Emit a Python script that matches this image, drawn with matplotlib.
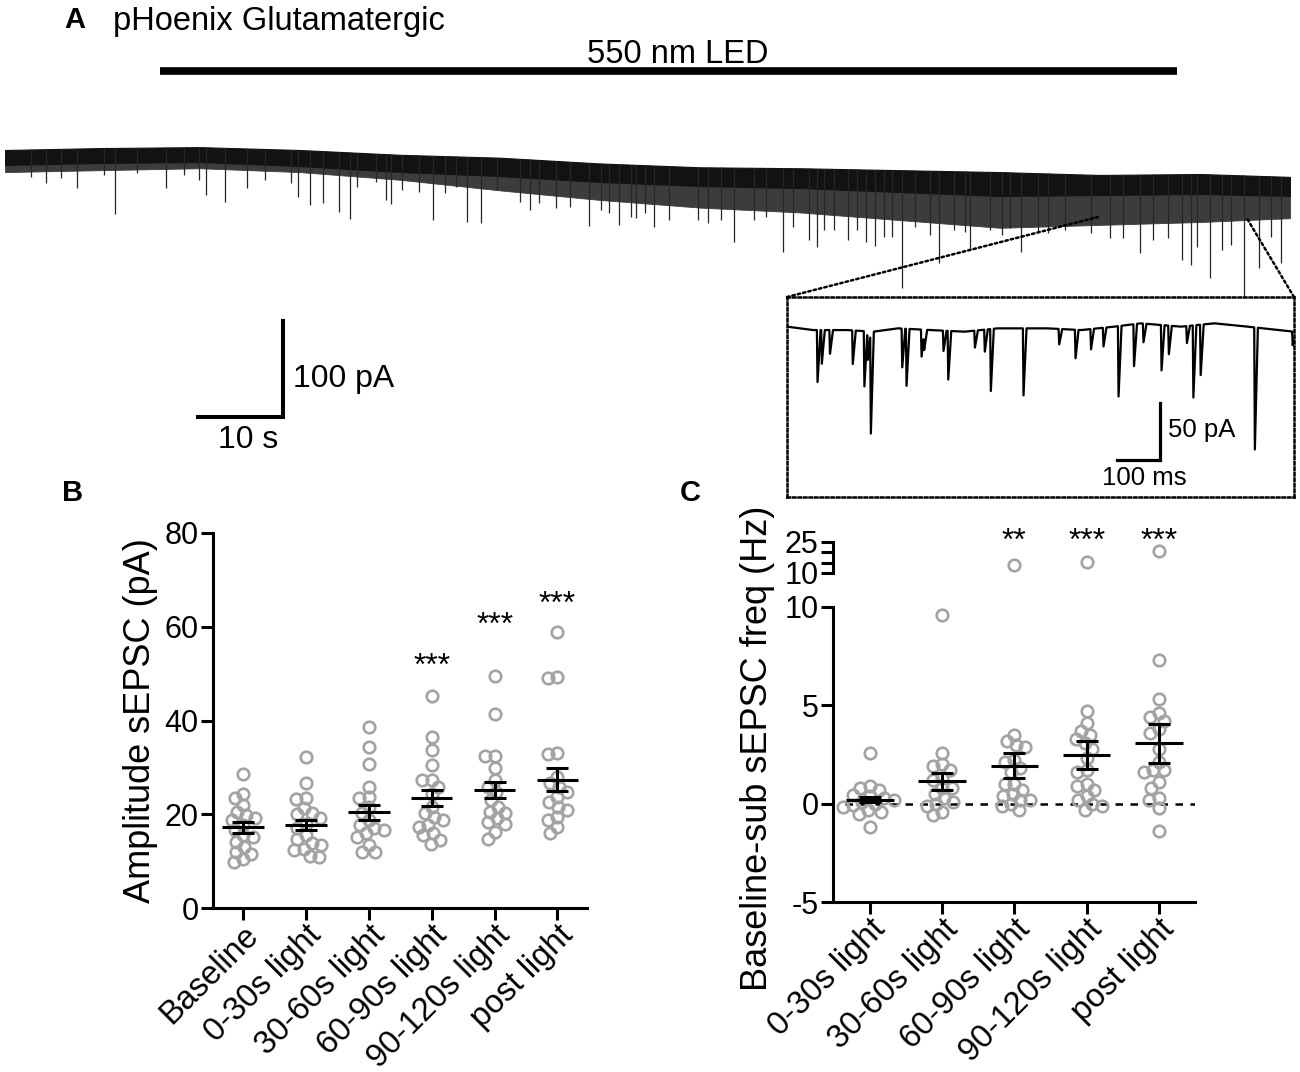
import numpy as np
import matplotlib
matplotlib.use("Agg")
import matplotlib.pyplot as plt
from matplotlib.patches import ConnectionPatch

plt.rcParams['font.family'] = ['Liberation Sans', 'DejaVu Sans']
plt.rcParams['axes.unicode_minus'] = False

W, H = 1300, 1072

# ---------------- panel A: whole-cell trace ----------------
trace_len = 151.2          # s
led_on, led_off = 18.2, 137.9

# outline of the noise band (s, pA): top edge, bottom of the solid core, bottom of the fringe
band_t = [0, 11.2, 22.9, 34.7, 46.5, 58.2, 70, 81.8, 93.5, 105.3, 117.1, 128.8, 140.6, 151.2]
band_top = [0, 2, 3, 0, -5, -8, -14, -18, -19, -21, -23, -26, -25, -28]
band_core = [-15.6, -13.5, -12.5, -16.7, -22.9, -27.1, -33.3, -37.5, -39.6, -43.8, -47.9,
             -46.9, -45.8, -47.9]
band_bot = [-23, -21, -19, -23, -31, -42, -52, -60, -65, -73, -81, -78, -75, -71]

# larger sEPSCs that stick out of the band (s, peak pA)
spike_t = [4.8, 8.5, 12.9, 18.9, 23.6, 25.9, 28.5, 34.5, 35.9, 37.4, 39.3, 40.6, 44.8,
           45.4, 50.4, 54.4, 56.0, 61.8, 68.7, 72.2, 74.2, 76.4, 85.8, 91.5, 94.6, 95.6,
           99.2, 101.3, 102.4, 105.5, 109.9, 113.6, 119.6, 121.5, 130.0, 133.6, 138.5,
           139.5, 141.8, 145.8, 147.5, 150.1,
           78.1, 81.5, 82.7, 84.2, 88.1, 89.5, 92.7, 96.4, 97.6, 100.2, 103.4, 104.4,
           107.1, 108.8, 111.7, 113.0, 115.9, 117.3, 118.3, 122.7, 124.7, 127.8, 131.5,
           135.1, 136.8, 140.3, 143.2, 144.2, 149.0,
           3.1, 6.6, 11.6, 15.5, 21.1, 22.8, 30.6, 33.6, 41.4, 43.6, 46.7, 48.7, 51.8,
           53.1, 57.9, 60.6, 62.8, 64.8, 66.5, 70.1, 71.1, 73.6, 75.3]
spike_pa = [-34.4, -39.6, -66.7, -39.6, -46.9, -54.2, -39.6, -49.0, -57.3, -55.2, -64.6,
            -71.9, -52.1, -56.3, -72.9, -75.0, -76.0, -62.5, -79.2, -78.1, -70.8, -80.2,
            -95.8, -106.3, -93.8, -101.0, -93.8, -95.8, -100.0, -143.8, -117.7, -103.1,
            -106.3, -85.4, -91.7, -107.3, -114.6, -119.8, -133.3, -159.4, -122.9, -117.7,
            -72.9, -72.9, -76.4, -72.9, -72.9, -69.5, -79.9, -83.3, -83.3, -83.3, -90.3,
            -90.3, -79.9, -88.5, -83.3, -85.1, -83.3, -88.5, -81.6, -86.8, -83.3, -86.8,
            -92.0, -93.8, -92.0, -100.7, -104.2, -99.0, -90.3,
            -27.8, -29.5, -26.0, -24.3, -26.0, -31.3, -31.3, -34.7, -38.2, -33.0, -41.7,
            -43.4, -45.1, -38.2, -41.7, -53.8, -55.5, -60.8, -59.1, -62.5, -65.9, -69.5,
            -65.9]

# zoomed inset: slow baseline (ms, pA), event times (ms) and amplitudes (pA)
inset_len = 1179
inset_base_t = [0, 61, 139, 201, 258, 335, 413, 490, 606, 684, 761, 823, 916, 994, 1071, 1178]
inset_base = [1.2, -1.8, -1.8, -3.2, -0.3, -1.8, -3.2, -0.3, -0.3, -1.8, 1.2, 4.1, 1.2, 4.1,
              1.2, -3.2]
inset_t = [71, 81, 100, 153, 180, 188, 195, 268, 278, 313, 319, 364, 375, 437, 460, 474,
           550, 633, 671, 707, 736, 771, 807, 829, 871, 888, 930, 945, 962, 1088, 1176]
inset_amp = [45.6, 29.5, 20.8, 29.5, 48.5, 25.0, 89.5, 34.0, 50.0, 23.7, 17.8, 17.8, 42.7,
             14.9, 19.3, 54.4, 58.8, 13.5, 25.0, 17.8, 16.4, 61.7, 36.8, 16.4, 39.8, 25.0,
             14.9, 63.2, 44.2, 107.0, 12.0]

# ---------------- panel B: amplitude ----------------
amp_labels = ["Baseline", "0-30s light", "30-60s light", "60-90s light", "90-120s light",
              "post light"]
amp_baseline = [28.6, 24.4, 23.4, 22.0, 20.5, 19.8, 19.1, 18.7, 17.7, 16.6, 15.5, 15.2,
                14.1, 13.0, 11.9, 11.6, 10.5, 9.8]
amp_0_30 = [32.3, 26.6, 23.4, 23.2, 21.4, 20.2, 20.0, 19.1, 18.0, 17.0, 15.5, 14.8, 13.8,
            13.4, 12.6, 12.3, 11.0, 10.8]
amp_30_60 = [38.7, 34.4, 30.8, 25.9, 23.7, 23.4, 21.6, 20.2, 18.7, 17.7, 17.0, 16.6, 15.9,
             15.2, 13.4, 12.0, 11.9]
amp_60_90 = [45.2, 36.5, 33.7, 30.6, 27.4, 27.3, 25.9, 24.4, 21.6, 20.2, 19.4, 18.7, 17.7,
             17.3, 15.9, 15.5, 14.5, 13.7]
amp_90_120 = [49.4, 41.4, 32.5, 32.4, 29.8, 27.3, 25.9, 24.8, 23.0, 21.6, 20.5, 20.2, 19.1,
              18.4, 18.0, 16.2, 14.8]
amp_post = [58.8, 49.2, 49.1, 33.0, 32.9, 28.0, 26.6, 25.9, 24.8, 23.7, 22.6, 21.6, 20.9,
            19.4, 18.7, 17.3, 16.0]
amp_mean = [17.2, 17.7, 20.4, 23.4, 25.1, 27.4]
amp_sem = [1.1, 1.1, 1.55, 1.7, 1.7, 2.45]
amp_sig = ["", "", "", "***", "***", "***"]
amp_sig_y = [0, 0, 0, 49.8, 58.5, 63.0]

# ---------------- panel C: baseline-subtracted frequency ----------------
freq_labels = ["0-30s light", "30-60s light", "60-90s light", "90-120s light", "post light"]
freq_0_30 = [2.6, 0.9, 0.8, 0.7, 0.45, 0.4, 0.3, 0.2, 0.1, 0.0, -0.05, -0.15, -0.3, -0.4,
             -0.5, -1.2]
freq_30_60 = [9.6, 2.6, 2.0, 1.9, 1.7, 1.3, 1.2, 0.8, 0.8, 0.5, 0.3, 0.1, 0.0, -0.1, -0.4,
              -0.6]
freq_60_90 = [13.9, 3.5, 3.2, 3.0, 2.9, 2.2, 2.1, 1.8, 1.6, 1.0, 1.0, 0.7, 0.5, 0.4, 0.2,
              0.2, 0.0, -0.1, -0.3]
freq_90_120 = [15.3, 4.7, 4.1, 3.7, 3.5, 3.3, 3.1, 2.8, 2.3, 1.7, 1.6, 1.0, 0.9, 0.7, 0.4,
               0.2, 0.0, -0.1, -0.3]
freq_post = [20.6, 7.3, 5.3, 4.6, 4.4, 4.2, 3.8, 3.6, 2.8, 2.1, 1.7, 1.7, 1.6, 1.1, 0.8,
             0.3, 0.2, -0.2, -1.4]
freq_mean = [0.2, 1.13, 1.93, 2.48, 3.07]
freq_sem = [0.14, 0.42, 0.64, 0.72, 0.98]
freq_sig = ["", "", "**", "***", "***"]

GREY = '#a3a3a3'
LW = 2.2


def px_axes(fig, l, t, r, b):
    return fig.add_axes([l / W, 1 - b / H, (r - l) / W, (b - t) / H])


def swarm(vals, sx, sy, gap=9.5):
    # simple beeswarm: push each point sideways until it clears the others (pixels)
    placed, offs = [], np.zeros(len(vals))
    cands = sorted(np.arange(-60, 61) * 0.5, key=lambda o: (abs(o), o))
    for i in np.argsort(vals)[::-1]:
        y = vals[i] * sy
        for c in cands:
            if all((c - px) ** 2 + (y - py) ** 2 >= gap ** 2 for px, py in placed):
                break
        placed.append((c, y))
        offs[i] = c / sx
    return offs


def style_axis(ax):
    for s in ['top', 'right']:
        ax.spines[s].set_visible(False)
    for s in ['left', 'bottom']:
        ax.spines[s].set_linewidth(LW)
    ax.tick_params(width=LW, length=8.5, pad=2, labelsize=22)
    ax.tick_params(axis='x', labelsize=23.5, pad=0)


def dot_plot(panels, groups, means, sems, sx, sy):
    # panels: list of (axes, low, high) - each point goes on the axes whose range holds it
    for i, vals in enumerate(groups):
        vals = np.array(vals)
        xs = i + swarm(vals, sx, sy)
        for ax, lo, hi in panels:
            keep = (vals > lo) & (vals <= hi)
            ax.plot(xs[keep], vals[keep], 'o', ms=8.3, mfc='none', mec=GREY, mew=1.9,
                    zorder=2, clip_on=False)
    ax = panels[0][0]
    x = np.arange(len(means))
    ax.hlines(means, x - 0.33, x + 0.33, color='k', lw=LW, zorder=3)
    ax.errorbar(x, means, yerr=sems, fmt='none', ecolor='k', elinewidth=LW,
                capsize=8, capthick=LW, zorder=3)


def main():
    fig = plt.figure(figsize=(W / 100, H / 100), dpi=100)

    # ---- panel A ----
    fig.text(75 / W, 1 - 20 / H, "A", fontsize=21, fontweight='bold', ha='center', va='center')
    fig.text(113 / W, 1 - 30 / H, "pHoenix Glutamatergic", fontsize=23.5, va='baseline')

    ax_tr = px_axes(fig, 5, 30, 1290, 470)
    ax_tr.set_xlim(0, trace_len)
    ax_tr.set_ylim(-333.3, 125)
    ax_tr.axis('off')

    ax_tr.hlines(82.3, led_on, led_off, color='k', lw=5.5)
    ax_tr.text((led_on + led_off) / 2 + 1.1, 91, "550 nm LED", fontsize=23.5, ha='center',
               va='baseline')

    ax_tr.fill_between(band_t, band_bot, band_core, color='#3c3c3c', lw=0.6, ec='#3c3c3c')
    ax_tr.fill_between(band_t, band_core, band_top, color='#121212', lw=0.8, ec='#121212')
    base = np.interp(spike_t, band_t, band_top)
    ax_tr.vlines(spike_t, spike_pa, base, color='#262626', lw=0.9)

    # scale bar 10 s / 100 pA
    sb_t, sb_y = 22.7, -278
    ax_tr.plot([sb_t, sb_t + 10, sb_t + 10], [sb_y, sb_y, sb_y + 100], color='k', lw=2.9,
               solid_joinstyle='miter')
    ax_tr.text(sb_t + 11.2, sb_y + 39, "100 pA", fontsize=23, va='center')
    ax_tr.text(sb_t + 5.9, sb_y - 24, "10 s", fontsize=23, ha='center', va='center')

    # inset
    ax_in = px_axes(fig, 787, 297, 1294, 497)
    ax_in.set_xlim(0, inset_len)
    ax_in.set_ylim(-148.2, 27.2)
    ax_in.set_xticks([])
    ax_in.set_yticks([])
    for s in ax_in.spines.values():
        s.set_linestyle((0, (1, 1.2)))
        s.set_linewidth(1.8)
    rise, decay = 1.5, 7.0
    ev_t = np.array(inset_t, float)
    knots = np.unique(np.concatenate([[0, inset_len], inset_base_t, ev_t - rise, ev_t,
                                      ev_t + decay]))
    knots = knots[(knots >= 0) & (knots <= inset_len)]
    depth = np.zeros_like(knots)
    for t0, a in zip(inset_t, inset_amp):
        depth = np.maximum(depth, np.interp(knots, [t0 - rise, t0, t0 + decay], [0, a, 0],
                                            left=0, right=0))
    ax_in.plot(knots, np.interp(knots, inset_base_t, inset_base) - depth, color='k', lw=1.6)
    ib_t, ib_y = 767, -115.8
    ax_in.plot([ib_t, ib_t + 100, ib_t + 100], [ib_y, ib_y, ib_y + 50], color='k', lw=2.3,
               solid_joinstyle='miter')
    ax_in.text(ib_t + 119, ib_y + 26, "50 pA", fontsize=18.5, va='center')
    ax_in.text(ib_t + 63, ib_y - 16, "100 ms", fontsize=18.5, ha='center', va='center')

    for xa, xb in [((0, 1), (128.6, -69.8)), ((1, 1), (146.1, -70.8))]:
        con = ConnectionPatch(xyA=xa, coordsA=ax_in.transAxes, xyB=xb, coordsB=ax_tr.transData,
                              ls=(0, (1, 1.2)), lw=1.8, color='k')
        fig.add_artist(con)

    # ---- panel B ----
    fig.text(73 / W, 1 - 493 / H, "B", fontsize=21, fontweight='bold', ha='center', va='center')
    ax_b = px_axes(fig, 213, 533, 587, 908)
    style_axis(ax_b)
    ax_b.set_xlim(-0.48, 5.47)
    ax_b.set_ylim(0, 80)
    ax_b.set_yticks([0, 20, 40, 60, 80])
    ax_b.set_xticks(range(len(amp_labels)))
    ax_b.set_xticklabels(amp_labels, rotation=45, ha='right', va='top', rotation_mode='anchor')
    ax_b.set_ylabel("Amplitude sEPSC (pA)", fontsize=26)
    ax_b.yaxis.set_label_coords(-0.147, 0.5)
    groups_b = [amp_baseline, amp_0_30, amp_30_60, amp_60_90, amp_90_120, amp_post]
    dot_plot([(ax_b, -1, 80)], groups_b, amp_mean, amp_sem, 62.6, 375 / 80)
    for i, (s, y) in enumerate(zip(amp_sig, amp_sig_y)):
        if s:
            ax_b.text(i, y, s, fontsize=23, ha='center', va='baseline')

    # ---- panel C ----
    fig.text(690 / W, 1 - 493 / H, "C", fontsize=21, fontweight='bold', ha='center', va='center')
    ax_c = px_axes(fig, 833, 607, 1195, 902)
    style_axis(ax_c)
    ax_c.set_xlim(-0.51, 4.5)
    ax_c.set_ylim(-5, 10)
    ax_c.set_yticks([-5, 0, 5, 10])
    ax_c.set_xticks(range(len(freq_labels)))
    ax_c.set_xticklabels(freq_labels, rotation=45, ha='right', va='top', rotation_mode='anchor')
    ax_c.hlines(0, -0.35, 4.5, color='k', lw=1.8, linestyles=(0, (3, 3)), zorder=1)
    ax_c.set_ylabel("Baseline-sub sEPSC freq (Hz)", fontsize=26)
    ax_c.yaxis.set_label_coords(-0.16, 0.522)

    ax_cu = px_axes(fig, 833, 542, 1195, 573)
    for s in ['top', 'right', 'bottom']:
        ax_cu.spines[s].set_visible(False)
    ax_cu.spines['left'].set_linewidth(LW)
    ax_cu.set_xlim(-0.51, 4.5)
    ax_cu.set_ylim(10, 25)
    ax_cu.set_xticks([])
    ax_cu.set_yticks([10, 25])
    ax_cu.set_yticks([15, 20], minor=True)
    ax_cu.tick_params(which='both', width=LW, length=8.5, pad=2, labelsize=22)
    ax_cu.patch.set_visible(False)

    groups_c = [freq_0_30, freq_30_60, freq_60_90, freq_90_120, freq_post]
    dot_plot([(ax_c, -5, 10), (ax_cu, 10, 25)], groups_c, freq_mean, freq_sem, 72.2, 295 / 15)
    for i, s in enumerate(freq_sig):
        if s:
            ax_cu.text(i, 21.0, s, fontsize=23, ha='center', va='baseline', clip_on=False)

    fig.savefig("out.png", dpi=100)


if __name__ == '__main__':
    main()
